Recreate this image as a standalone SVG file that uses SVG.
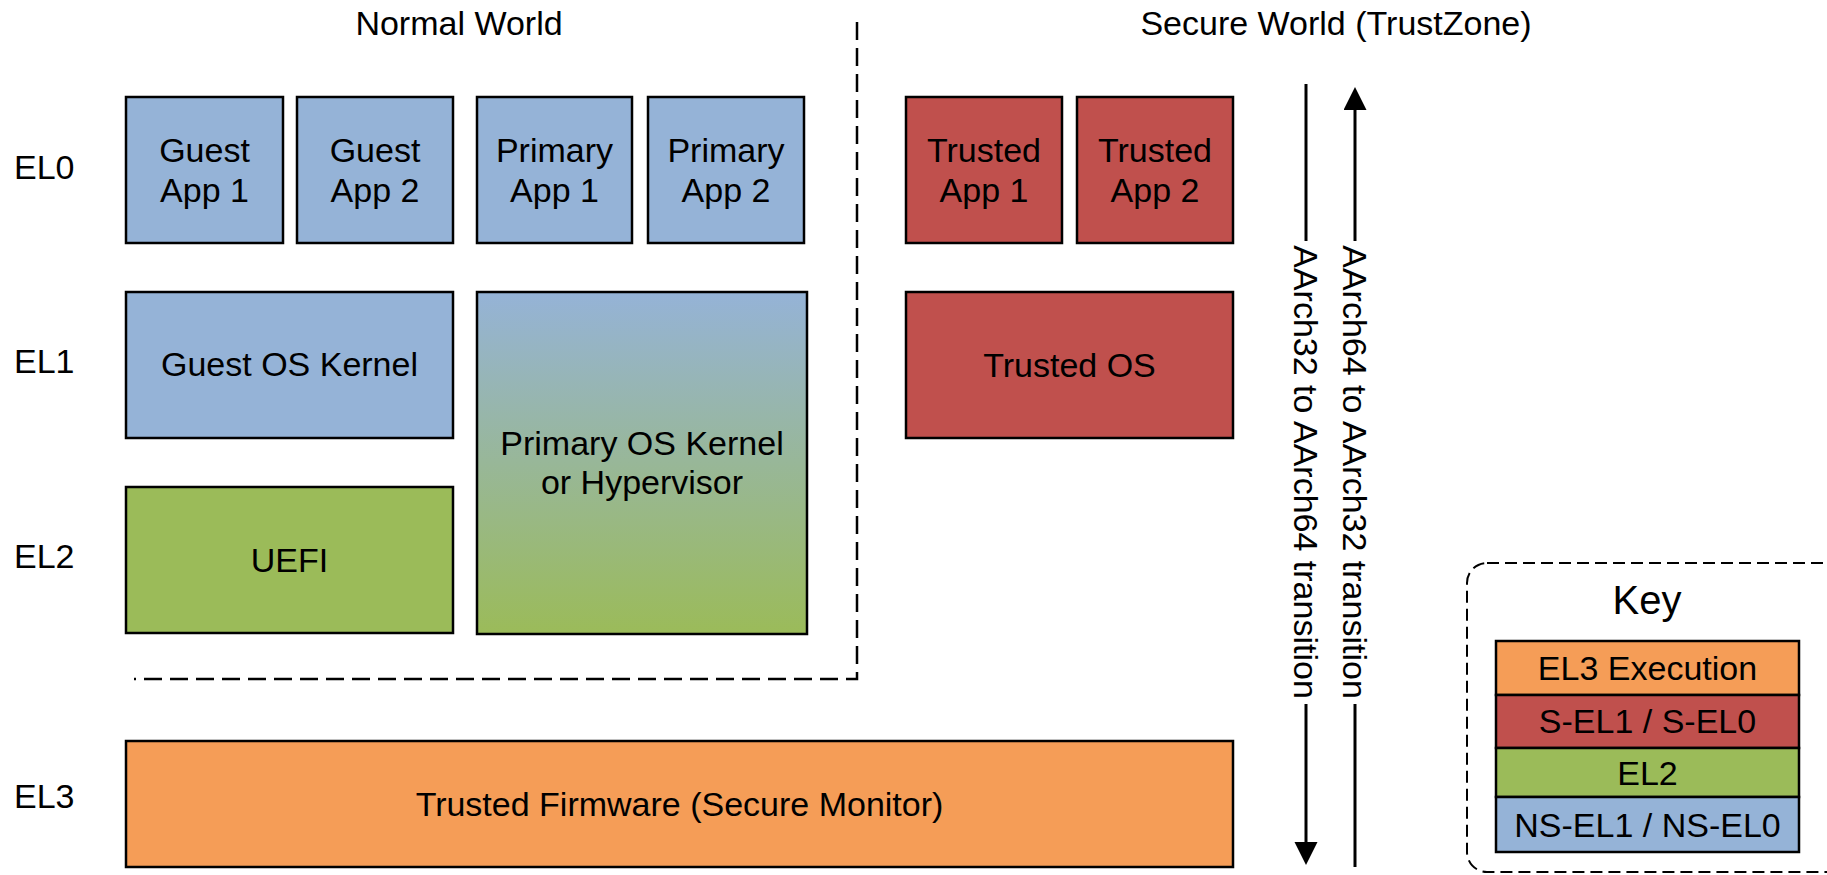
<svg xmlns="http://www.w3.org/2000/svg" width="1827" height="875" viewBox="0 0 1827 875">
<style>
text{font-family:"Liberation Sans",Arial,sans-serif;font-size:34px;fill:#000;text-anchor:middle}
.lbl{text-anchor:start}
.box{stroke:#000;stroke-width:2.5}
.blue{fill:#95B3D7}.red{fill:#C0504D}.green{fill:#9BBB59}.orange{fill:#F59D57}
.dash{fill:none;stroke:#000;stroke-width:2.5;stroke-dasharray:18 8}
.arr{fill:none;stroke:#000;stroke-width:3}
</style>
<defs>
<linearGradient id="grad" x1="0" y1="0" x2="0" y2="1">
<stop offset="0" stop-color="#95B3D7"/>
<stop offset="1" stop-color="#9BBB59"/>
</linearGradient>
<marker id="ah" markerUnits="userSpaceOnUse" markerWidth="24" markerHeight="24" refX="0" refY="11.5" orient="auto" viewBox="0 0 24 24">
<path d="M0,0 L23,11.5 L0,23 z" fill="#000"/>
</marker>
</defs>
<rect width="1827" height="875" fill="#fff"/>
<g id="titles">
<text x="459" y="35">Normal World</text>
<text x="1336" y="35">Secure World (TrustZone)</text>
</g>
<g id="levels">
<text class="lbl" x="14" y="179">EL0</text>
<text class="lbl" x="14" y="373">EL1</text>
<text class="lbl" x="14" y="568">EL2</text>
<text class="lbl" x="14" y="808">EL3</text>
</g>
<g id="guest-app-1"><rect class="box blue" x="126" y="97" width="157" height="146"/><text x="204.5" y="162">Guest</text><text x="204.5" y="202">App 1</text></g>
<g id="guest-app-2"><rect class="box blue" x="297" y="97" width="156" height="146"/><text x="375" y="162">Guest</text><text x="375" y="202">App 2</text></g>
<g id="primary-app-1"><rect class="box blue" x="477" y="97" width="155" height="146"/><text x="554.5" y="162">Primary</text><text x="554.5" y="202">App 1</text></g>
<g id="primary-app-2"><rect class="box blue" x="648" y="97" width="156" height="146"/><text x="726" y="162">Primary</text><text x="726" y="202">App 2</text></g>
<g id="trusted-app-1"><rect class="box red" x="906" y="97" width="156" height="146"/><text x="984" y="162">Trusted</text><text x="984" y="202">App 1</text></g>
<g id="trusted-app-2"><rect class="box red" x="1077" y="97" width="156" height="146"/><text x="1155" y="162">Trusted</text><text x="1155" y="202">App 2</text></g>
<g id="guest-os-kernel"><rect class="box blue" x="126" y="292" width="327" height="146"/><text x="289.5" y="376">Guest OS Kernel</text></g>
<g id="primary-os-kernel"><rect class="box" fill="url(#grad)" x="477" y="292" width="330" height="342"/><text x="642" y="455">Primary OS Kernel</text><text x="642" y="494">or Hypervisor</text></g>
<g id="uefi"><rect class="box green" x="126" y="487" width="327" height="146"/><text x="289.5" y="572">UEFI</text></g>
<g id="trusted-os"><rect class="box red" x="906" y="292" width="327" height="146"/><text x="1069.5" y="377">Trusted OS</text></g>
<g id="trusted-firmware"><rect class="box orange" x="126" y="741" width="1107" height="126"/><text x="679.5" y="816">Trusted Firmware (Secure Monitor)</text></g>
<g id="world-divider">
<path class="dash" d="M857,22 V679 H134"/>
</g>
<g id="connectors">
<path class="arr" d="M1306,84 V241"/>
<path class="arr" d="M1306,704 V842" marker-end="url(#ah)"/>
<path class="arr" d="M1355,867 V704"/>
<path class="arr" d="M1355,241 V110" marker-end="url(#ah)"/>
<text transform="translate(1306,472) rotate(90)" x="0" y="12">AArch32 to AArch64 transition</text>
<text transform="translate(1355,472) rotate(90)" x="0" y="12">AArch64 to AArch32 transition</text>
</g>
<g id="key">
<rect x="1467" y="563" width="400" height="309" rx="20" ry="20" fill="none" stroke="#000" stroke-width="2" stroke-dasharray="12 6"/>
<text x="1647" y="614" style="font-size:40px">Key</text>
<rect class="box orange" x="1496" y="641" width="303" height="54"/>
<text x="1647.5" y="680">EL3 Execution</text>
<rect class="box red" x="1496" y="695" width="303" height="53"/>
<text x="1647.5" y="733">S-EL1 / S-EL0</text>
<rect class="box green" x="1496" y="748" width="303" height="49"/>
<text x="1647.5" y="785">EL2</text>
<rect class="box blue" x="1496" y="797" width="303" height="55"/>
<text x="1647.5" y="837">NS-EL1 / NS-EL0</text>
</g>
</svg>
